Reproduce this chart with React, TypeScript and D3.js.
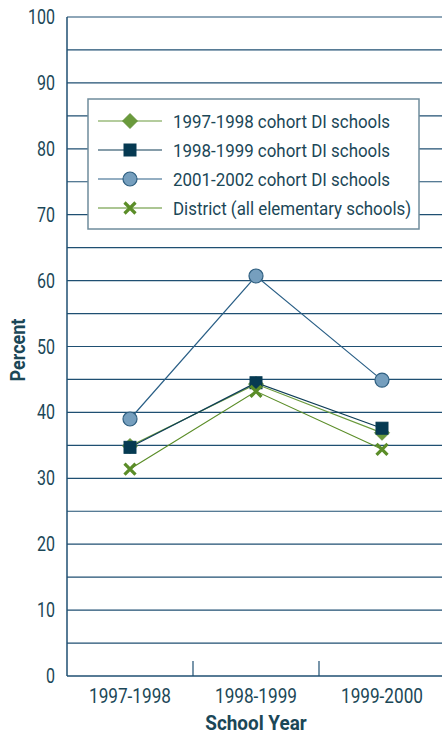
import * as d3 from "d3";

const years = ["1997-1998", "1998-1999", "1999-2000"];
const cohort9798 = [34.9, 44.3, 36.9];
const cohort9899 = [34.7, 44.5, 37.6];
const cohort0102 = [39.0, 60.7, 44.9];
const district = [31.4, 43.2, 34.4];
const seriesNames = [
  "1997-1998 cohort DI schools",
  "1998-1999 cohort DI schools",
  "2001-2002 cohort DI schools",
  "District (all elementary schools)",
];
const yTicks = [0, 10, 20, 30, 40, 50, 60, 70, 80, 90, 100];

const WIDTH = 442;
const HEIGHT = 736;
const LEFT = 67;
const TOP = 17;
const BOTTOM = 676;
const BAND = 126;
const FONT = "Roboto, 'Noto Sans', sans-serif";
const TEXT = "#1b4757";
const GRID = "#1f4f72";

const series = [
  { name: seriesNames[0], values: cohort9798, line: "#6a9a3c", marker: "diamond", fill: "#6a9a3c", stroke: "#5d8c32" },
  { name: seriesNames[1], values: cohort9899, line: "#0e3d57", marker: "square", fill: "#063a52", stroke: "#063a52" },
  { name: seriesNames[2], values: cohort0102, line: "#2a5f86", marker: "circle", fill: "#769fbe", stroke: "#2f5f80" },
  { name: seriesNames[3], values: district, line: "#5b8d28", marker: "cross", fill: "none", stroke: "#5b8d28" },
];

// narrow text: scaled horizontally around its anchor point (no condensed face installed)
const NText = ({ x, y, size, sx = 0.8, anchor = "start", bold = false, children }: any) => (
  <text
    transform={`translate(${x},${y}) scale(${sx},1)`}
    textAnchor={anchor}
    fontSize={size}
    fontWeight={bold ? "bold" : "normal"}
    fill={TEXT}
  >
    {children}
  </text>
);

const Marker = ({ kind, x, y, fill, stroke }: { kind: string; x: number; y: number; fill: string; stroke: string }) => {
  if (kind === "diamond") {
    const r = 7.5;
    return <path d={`M${x},${y - r}L${x + r},${y}L${x},${y + r}L${x - r},${y}Z`} fill={fill} stroke={stroke} strokeWidth={0.8} />;
  }
  if (kind === "square") {
    const r = 6;
    return <rect x={x - r} y={y - r} width={2 * r} height={2 * r} fill={fill} stroke={stroke} />;
  }
  if (kind === "circle") {
    return <circle cx={x} cy={y} r={7} fill={fill} stroke={stroke} strokeWidth={1.2} />;
  }
  const r = 5.5;
  return (
    <path
      d={`M${x - r},${y - r}L${x + r},${y + r}M${x - r},${y + r}L${x + r},${y - r}`}
      stroke={stroke}
      strokeWidth={3.2}
      fill="none"
    />
  );
};

export default function App() {
  const x = d3.scaleBand<string>().domain(years).range([LEFT, LEFT + BAND * years.length]);
  const y = d3.scaleLinear().domain([0, 100]).range([BOTTOM, TOP]);
  const cx = (d: string) => (x(d) as number) + x.bandwidth() / 2;
  const line = d3
    .line<number>()
    .x((_, i) => cx(years[i]))
    .y((v) => y(v));
  const gridVals = d3.range(5, 101, 5);

  const lg = { x: 88, y: 99, w: 331, h: 130 };

  return (
    <svg
      width={WIDTH}
      height={HEIGHT}
      style={{ position: "absolute", left: 0, top: 0, background: "#fff" }}
      fontFamily={FONT}
    >
      {gridVals.map((v) => (
        <line key={v} x1={LEFT} x2={WIDTH + 5} y1={y(v)} y2={y(v)} stroke={GRID} strokeWidth={1.2} />
      ))}
      <line x1={LEFT} x2={LEFT} y1={TOP} y2={BOTTOM} stroke={GRID} strokeWidth={1.5} />
      <line x1={LEFT} x2={WIDTH + 5} y1={BOTTOM} y2={BOTTOM} stroke={GRID} strokeWidth={1.5} />
      {years.slice(1).map((d) => (
        <line key={d} x1={x(d)} x2={x(d)} y1={BOTTOM} y2={BOTTOM - 15} stroke={GRID} strokeWidth={1.2} />
      ))}
      {yTicks.map((t) => (
        <NText key={t} x={55} y={y(t) + 7} size={20} anchor="end">
          {t}
        </NText>
      ))}
      {years.map((d) => (
        <NText key={d} x={cx(d)} y={703} size={20} sx={0.86} anchor="middle">
          {d}
        </NText>
      ))}
      <NText x={256} y={730} size={21} sx={0.9} anchor="middle" bold>
        School Year
      </NText>
      <text
        transform={`translate(25, 350) rotate(-90) scale(0.9,1)`}
        textAnchor="middle"
        fontSize={20}
        fontWeight="bold"
        fill={TEXT}
      >
        Percent
      </text>

      {series.map((s) => (
        <path key={s.name} d={line(s.values) || ""} fill="none" stroke={s.line} strokeWidth={1.2} />
      ))}
      {series.map((s) =>
        s.values.map((v, i) => (
          <Marker key={s.name + i} kind={s.marker} x={cx(years[i])} y={y(v)} fill={s.fill} stroke={s.stroke} />
        ))
      )}

      <rect x={lg.x} y={lg.y} width={lg.w} height={lg.h} fill="#fff" stroke="#6f8c9c" strokeWidth={1.5} />
      {series.map((s, i) => {
        const ly = lg.y + 22 + i * 29;
        return (
          <g key={s.name}>
            <line x1={98} x2={162} y1={ly} y2={ly} stroke={s.line} strokeWidth={1.2} />
            <Marker kind={s.marker} x={130} y={ly} fill={s.fill} stroke={s.stroke} />
            <NText x={173} y={ly + 6.5} size={18} sx={0.94}>
              {s.name}
            </NText>
          </g>
        );
      })}
    </svg>
  );
}
